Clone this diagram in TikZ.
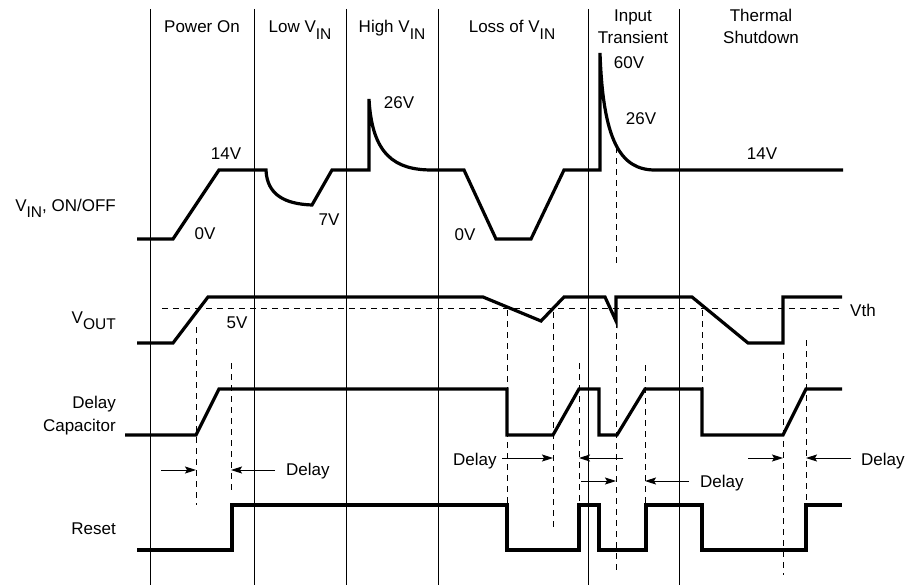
\documentclass[tikz,border=0pt]{standalone}
\usepackage{fontspec}
\setmainfont{Liberation Sans}
\usetikzlibrary{arrows.meta}
\newcommand{\sbs}[1]{\raisebox{-6.5pt}{\fontsize{15.5}{15.5}\selectfont #1}}

\begin{document}
\begin{tikzpicture}[x=1pt,y=-1pt,
  wave/.style={line width=3.2pt},
  divider/.style={line width=0.9pt},
  guide/.style={line width=0.9pt,dash pattern=on 6pt off 5pt},
  delayarr/.style={line width=0.9pt,-{Stealth[length=11pt,width=7pt,inset=2pt]}},
  every node/.style={font=\fontsize{17}{22}\selectfont,inner sep=0pt}]
\useasboundingbox (0,0) rectangle (907,586);

% section borders
\foreach \x in {150,254,346,438,588,679}
  \draw[divider] (\x,9) -- (\x,585);

% section titles
\draw(202,33) node[anchor=base] (tpow) {Power On};
\draw(300,33) node[anchor=base] (tlow) {Low V\sbs{IN}};
\draw(392,33) node[anchor=base] (thigh) {High V\sbs{IN}};
\draw(512,33) node[anchor=base] (tloss) {Loss of V\sbs{IN}};
\draw(633,22) node[anchor=base] (tinA) {Input};
\draw(633,44) node[anchor=base] (tinB) {Transient};
\draw(761,22) node[anchor=base] (tthA) {Thermal};
\draw(761,44) node[anchor=base] (tthB) {Shutdown};

% signal names
\draw(116,211) node[anchor=base east] (nvin) {V\sbs{IN}, ON/OFF};
\draw(116,323) node[anchor=base east] (nvout) {V\sbs{OUT}};
\draw(116,408) node[anchor=base east] (ncapA) {Delay};
\draw(116,431) node[anchor=base east] (ncapB) {Capacitor};
\draw(116,534) node[anchor=base east] (nrst) {Reset};

% V_IN
\draw[wave] (137,239) -- (173,239) -- (219,170) -- (266,170)
  .. controls (267,195) and (285,204) .. (312,205) -- (332,170) -- (369,170) -- (369,99)
  .. controls (372,155) and (395,170) .. (432,170) -- (464,170) -- (496,239) -- (531,239)
  -- (564,170) -- (600,170) -- (600,53)
  .. controls (603,140) and (620,170) .. (655,170) -- (843,170);
\draw(226,159) node[anchor=base] (v14a) {14V};
\draw(205,239) node[anchor=base] (v0a) {0V};
\draw(329,225) node[anchor=base] (v7) {7V};
\draw(399,108) node[anchor=base] (v26a) {26V};
\draw(465,240) node[anchor=base] (v0b) {0V};
\draw(629,68) node[anchor=base] (v60) {60V};
\draw(641,124) node[anchor=base] (v26b) {26V};
\draw(762,159) node[anchor=base] (v14b) {14V};

% V_OUT
\draw[guide] (162,308) -- (842,308);
\draw[wave] (137,343) -- (173,343) -- (208,297) -- (483,297) -- (541,321) -- (564,297)
  -- (605,297) -- (616,321) -- (616,297) -- (692,297) -- (748,343) -- (783,343)
  -- (783,297) -- (842,297);
\draw(237,328) node[anchor=base] (v5) {5V};
\draw(850,316) node[anchor=base west] (vth) {Vth};

% delay capacitor
\draw[wave] (125,435) -- (196,435) -- (219,389) -- (507,389) -- (507,435) -- (553,435)
  -- (579,389) -- (599,389) -- (599,435) -- (617,435) -- (645,389) -- (702,389)
  -- (702,435) -- (783,435) -- (806,389) -- (842,389);

% reset
\draw[wave] (137,550) -- (232,550) -- (232,505) -- (507,505) -- (507,550) -- (579,550)
  -- (579,505) -- (599,505) -- (599,550) -- (646,550) -- (646,505) -- (702,505)
  -- (702,550) -- (806,550) -- (806,505) -- (842,505);

% timing guides
\draw[guide] (616,147) -- (616,263);
\foreach \x/\ya/\yb in {196/327/505,231/363/493,507/310/503,553/312/528,579/363/503,
    616/322/572,645/365/503,702/310/388,783/353/575,806/340/503}
  \draw[guide] (\x,\ya) -- (\x,\yb);

% delay markers
\coordinate (d1a) at (161,470); \coordinate (d1b) at (196,470);
\coordinate (d2a) at (275,470); \coordinate (d2b) at (231,470);
\coordinate (d3a) at (502,458); \coordinate (d3b) at (553,458);
\coordinate (d4a) at (623,458); \coordinate (d4b) at (579,458);
\coordinate (d5a) at (581,481); \coordinate (d5b) at (616,481);
\coordinate (d6a) at (689,481); \coordinate (d6b) at (645,481);
\coordinate (d7a) at (748,458); \coordinate (d7b) at (783,458);
\coordinate (d8a) at (851,458); \coordinate (d8b) at (806,458);
\foreach \i in {1,...,8}
  \draw[delayarr] (d\i a) -- (d\i b);
\draw(286,475) node[anchor=base west] (dly1) {Delay};
\draw(453,465) node[anchor=base west] (dly2) {Delay};
\draw(700,487) node[anchor=base west] (dly3) {Delay};
\draw(861,465) node[anchor=base west] (dly4) {Delay};
\end{tikzpicture}
\end{document}
